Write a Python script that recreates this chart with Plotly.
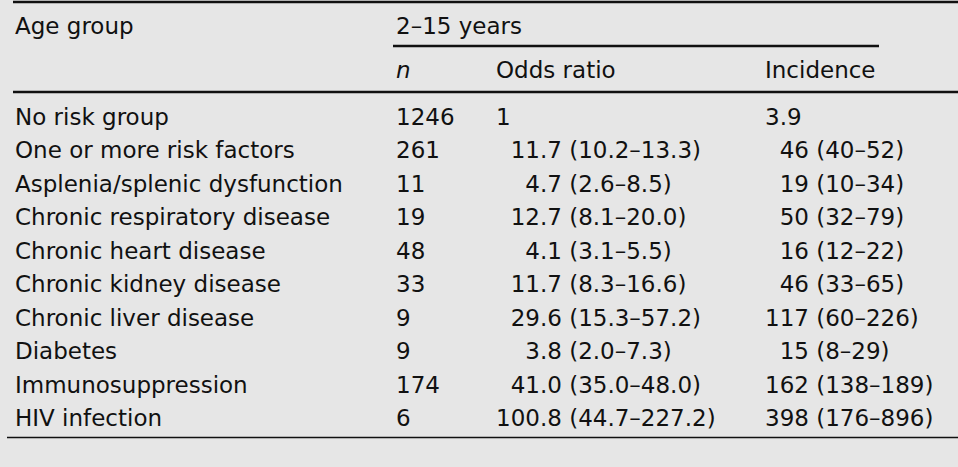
import plotly.graph_objects as go

# ---- data ----
age_group_header = "Age group"
span_header = "2\u201315 years"
col_headers = ["n", "Odds ratio", "Incidence"]

labels = [
    "No risk group",
    "One or more risk factors",
    "Asplenia/splenic dysfunction",
    "Chronic respiratory disease",
    "Chronic heart disease",
    "Chronic kidney disease",
    "Chronic liver disease",
    "Diabetes",
    "Immunosuppression",
    "HIV infection",
]
n_vals = [1246, 261, 11, 19, 48, 33, 9, 9, 174, 6]
or_est = ["1", "11.7", "4.7", "12.7", "4.1", "11.7", "29.6", "3.8", "41.0", "100.8"]
or_lo = [None, "10.2", "2.6", "8.1", "3.1", "8.3", "15.3", "2.0", "35.0", "44.7"]
or_hi = [None, "13.3", "8.5", "20.0", "5.5", "16.6", "57.2", "7.3", "48.0", "227.2"]
inc_est = ["3.9", "46", "19", "50", "16", "46", "117", "15", "162", "398"]
inc_lo = [None, "40", "10", "32", "12", "33", "60", "8", "138", "176"]
inc_hi = [None, "52", "34", "79", "22", "65", "226", "29", "189", "896"]

# ---- layout constants ----
W, H = 958, 467
BG = "#e6e6e6"
INK = "#111111"
FONT = "DejaVu Sans"
FS = 23
FIG = "\u2007"  # figure space (digit width)

x_label, x_n, x_or, x_inc = 13, 394, 494, 763
y_head1, y_head2 = 26, 70
y_first, row_step = 117, 33.45


def cell(est, lo, hi, width):
    if lo is None:
        return est
    intpart = est.split(".")[0]
    pad = FIG * max(0, width - len(intpart))
    return f"{pad}{est} ({lo}\u2013{hi})"


fig = go.Figure()
fig.add_trace(go.Scatter(x=[0, W], y=[0, H], mode="markers",
                         marker=dict(opacity=0), hoverinfo="skip", showlegend=False))

ann = []


def add(x, y, text, italic=False):
    ann.append(dict(x=x, y=y, xref="x", yref="y", text=text, showarrow=False,
                    xanchor="left", yanchor="middle",
                    font=dict(family=FONT, size=FS, color=INK,
                              style="italic" if italic else "normal")))


add(x_label, y_head1, age_group_header)
add(x_n, y_head1, span_header)
add(x_n, y_head2, col_headers[0], italic=True)
add(x_or, y_head2, col_headers[1])
add(x_inc, y_head2, col_headers[2])

or_w = max(len(e.split(".")[0]) for e in or_est)
inc_w = max(len(e.split(".")[0]) for e in inc_est)
for i, lab in enumerate(labels):
    y = y_first + i * row_step
    add(x_label, y, lab)
    add(x_n, y, str(n_vals[i]))
    add(x_or, y, cell(or_est[i], or_lo[i], or_hi[i], or_w))
    add(x_inc, y, cell(inc_est[i], inc_lo[i], inc_hi[i], inc_w))

shapes = [
    dict(type="line", x0=13, x1=W, y0=2, y1=2, line=dict(color=INK, width=2.5)),
    dict(type="line", x0=393, x1=879, y0=46, y1=46, line=dict(color=INK, width=2.5)),
    dict(type="line", x0=13, x1=W, y0=92, y1=92, line=dict(color=INK, width=2.5)),
    dict(type="line", x0=7, x1=W, y0=437.5, y1=437.5, line=dict(color=INK, width=1.6)),
]
for s in shapes:
    s.update(xref="x", yref="y", layer="above")

fig.update_layout(
    width=W, height=H, margin=dict(l=0, r=0, t=0, b=0),
    paper_bgcolor=BG, plot_bgcolor=BG,
    xaxis=dict(range=[0, W], visible=False, fixedrange=True),
    yaxis=dict(range=[H, 0], visible=False, fixedrange=True),
    annotations=ann, shapes=shapes, showlegend=False,
)

fig.write_html(
    "out.html",
    config={"displayModeBar": False},
    post_script="document.body.style.margin='0';document.body.style.overflow='hidden';"
                "document.body.style.background='" + BG + "';",
)
